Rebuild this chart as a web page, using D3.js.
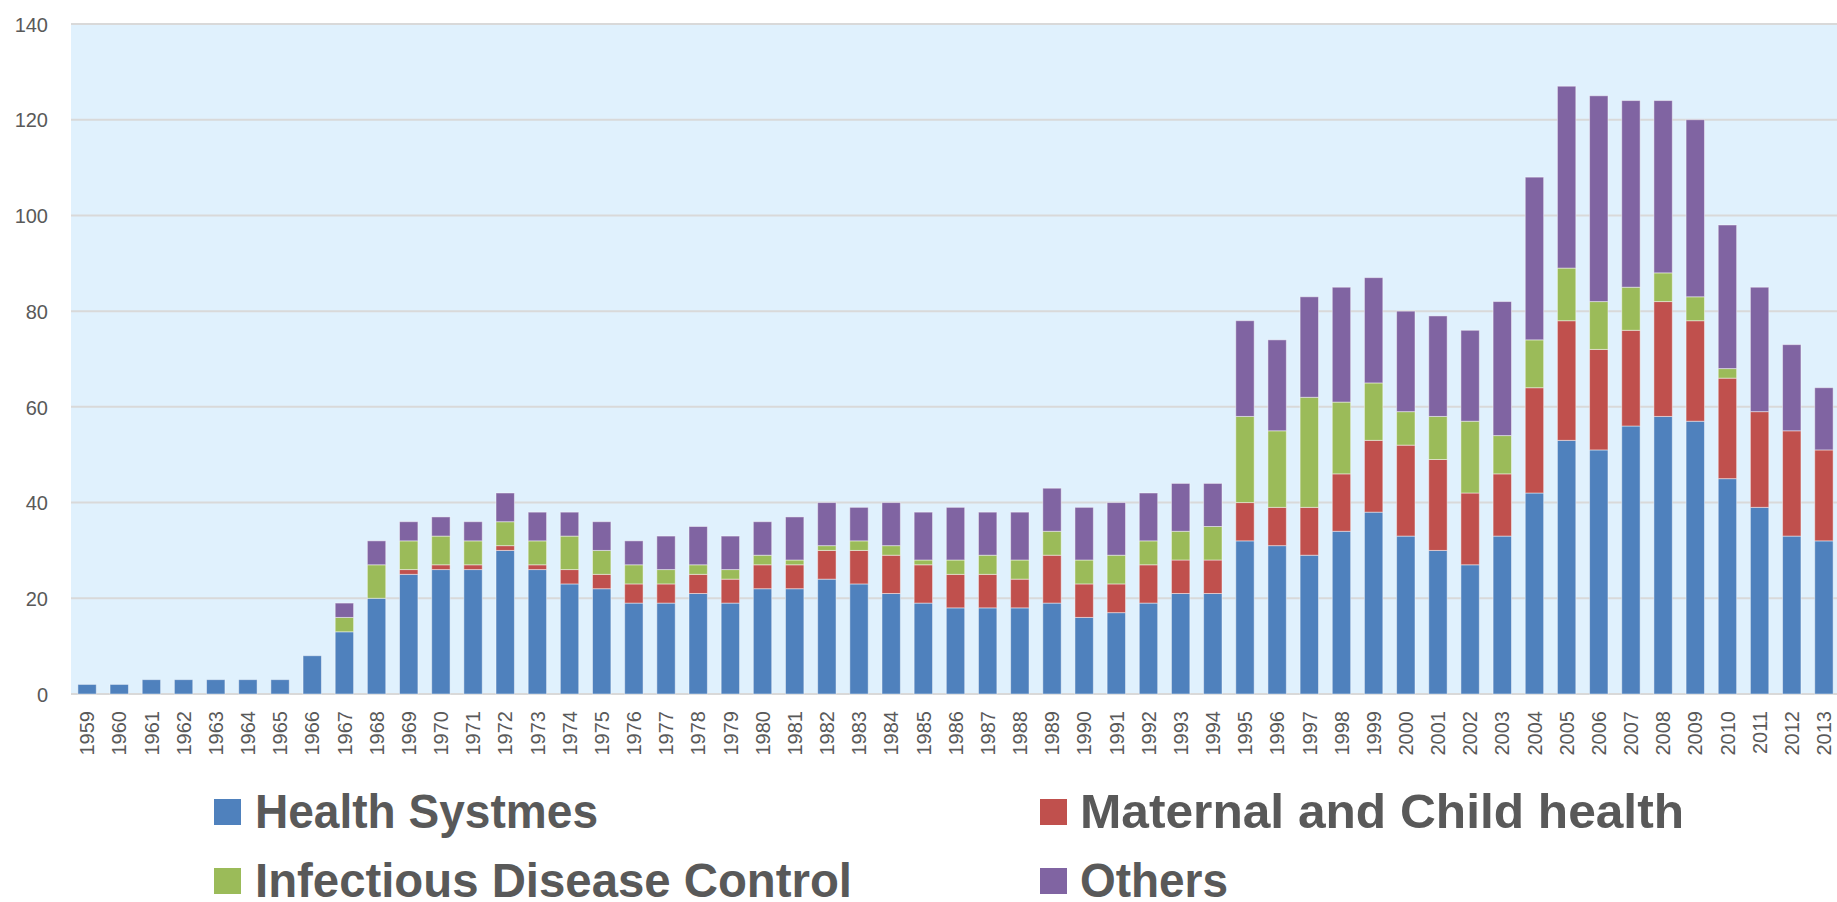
<!DOCTYPE html>
<html>
<head>
<meta charset="utf-8">
<script src="https://cdn.jsdelivr.net/npm/d3@7"></script>
<style>
  html, body { margin: 0; padding: 0; background: #ffffff; }
  svg { display: block; }
</style>
</head>
<body>
<svg id="chart" width="1837" height="902"></svg>
<script>
const years = ["1959","1960","1961","1962","1963","1964","1965","1966","1967","1968","1969","1970","1971","1972","1973","1974","1975","1976","1977","1978","1979","1980","1981","1982","1983","1984","1985","1986","1987","1988","1989","1990","1991","1992","1993","1994","1995","1996","1997","1998","1999","2000","2001","2002","2003","2004","2005","2006","2007","2008","2009","2010","2011","2012","2013"];
const healthSystems = [2,2,3,3,3,3,3,8,13,20,25,26,26,30,26,23,22,19,19,21,19,22,22,24,23,21,19,18,18,18,19,16,17,19,21,21,32,31,29,34,38,33,30,27,33,42,53,51,56,58,57,45,39,33,32];
const maternalChild = [0,0,0,0,0,0,0,0,0,0,1,1,1,1,1,3,3,4,4,4,5,5,5,6,7,8,8,7,7,6,10,7,6,8,7,7,8,8,10,12,15,19,19,15,13,22,25,21,20,24,21,21,20,22,19];
const infectious = [0,0,0,0,0,0,0,0,3,7,6,6,5,5,5,7,5,4,3,2,2,2,1,1,2,2,1,3,4,4,5,5,6,5,6,7,18,16,23,15,12,7,9,15,8,10,11,10,9,6,5,2,0,0,0];
const others = [0,0,0,0,0,0,0,0,3,5,4,4,4,6,6,5,6,5,7,8,7,7,9,9,7,9,10,11,9,10,9,11,11,10,10,9,20,19,21,24,22,21,21,19,28,34,38,43,39,36,37,30,26,18,13];
const seriesNames = ["Health Systmes","Maternal and Child health","Infectious Disease Control","Others"];
const seriesColors = ["#4f81bd","#c0504d","#9bbb59","#8064a2"];
const yTicks = [0,20,40,60,80,100,120,140];

const svg = d3.select("#chart");
const plotLeft = 71, plotRight = 1840, plotTop = 24, plotBottom = 694;

const keys = ["hs","mch","idc","oth"];
const table = years.map((yr, i) => ({year: yr, hs: healthSystems[i], mch: maternalChild[i], idc: infectious[i], oth: others[i]}));
const stacked = d3.stack().keys(keys)(table);

const x = d3.scaleBand().domain(years).range([plotLeft, plotRight]).paddingInner(0.428).paddingOuter(0.214);
const y = d3.scaleLinear().domain([0, 140]).range([plotBottom, plotTop]);

// plot background
svg.append("rect").attr("x", plotLeft).attr("y", plotTop).attr("width", plotRight - plotLeft).attr("height", plotBottom - plotTop).attr("fill", "#e0f1fd");

// gridlines
svg.append("g").selectAll("line").data(yTicks).join("line")
  .attr("x1", plotLeft).attr("x2", plotRight)
  .attr("y1", d => y(d)).attr("y2", d => y(d))
  .attr("stroke", "#d9d9d9").attr("stroke-width", 2);

// y axis labels
const yAxis = d3.axisLeft(y).tickValues(yTicks).tickSize(0).tickPadding(0);
const yg = svg.append("g").attr("transform", "translate(48,0)").call(yAxis);
yg.select(".domain").remove();
yg.selectAll("text").attr("font-family", "'Liberation Sans', Arial, sans-serif").attr("font-size", 20).attr("fill", "#595959").attr("dy", "0.36em");

// bars
svg.append("g").selectAll("g").data(stacked).join("g")
  .attr("fill", (d, i) => seriesColors[i])
  .selectAll("rect").data(d => d.filter(s => s[1] - s[0] > 0)).join("rect")
  .attr("x", d => x(d.data.year))
  .attr("width", x.bandwidth())
  .attr("y", d => y(d[1]))
  .attr("height", d => y(d[0]) - y(d[1]))
  .attr("stroke", "rgba(255,255,255,0.45)").attr("stroke-width", 1);

// x axis labels
const xAxis = d3.axisBottom(x).tickSize(0).tickPadding(0);
const xg = svg.append("g").attr("transform", `translate(0,${plotBottom})`).call(xAxis);
xg.select(".domain").remove();
xg.selectAll("text")
  .attr("font-family", "'Liberation Sans', Arial, sans-serif").attr("font-size", 20).attr("fill", "#595959")
  .attr("text-anchor", "end")
  .attr("transform", "rotate(-90)")
  .attr("x", -17).attr("y", 0).attr("dy", "0.36em");

// legend
const legendItems = [
  {name: seriesNames[0], color: seriesColors[0], sx: 214, tx: 255, row: 0, w: 343},
  {name: seriesNames[1], color: seriesColors[1], sx: 1040, tx: 1080, row: 0, w: 604},
  {name: seriesNames[2], color: seriesColors[2], sx: 214, tx: 255, row: 1, w: 597},
  {name: seriesNames[3], color: seriesColors[3], sx: 1040, tx: 1080, row: 1, w: 148}
];
const rowBase = [828, 897];
const lg = svg.append("g");
lg.selectAll("rect").data(legendItems).join("rect")
  .attr("x", d => d.sx).attr("y", d => rowBase[d.row] - 29)
  .attr("width", 27).attr("height", 26).attr("fill", d => d.color);
lg.selectAll("text").data(legendItems).join("text")
  .attr("x", d => d.tx).attr("y", d => rowBase[d.row])
  .attr("font-family", "'Liberation Sans', Arial, sans-serif").attr("font-weight", "bold")
  .attr("font-size", 48).attr("fill", "#595959")
  .attr("textLength", d => d.w).attr("lengthAdjust", "spacingAndGlyphs")
  .text(d => d.name);
</script>
</body>
</html>
